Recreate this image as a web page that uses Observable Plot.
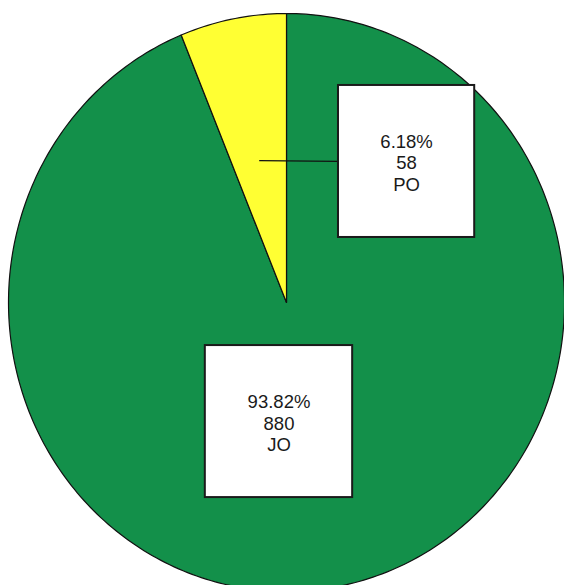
<!DOCTYPE html>
<html>
<head>
<meta charset="utf-8">
<script src="https://cdn.jsdelivr.net/npm/d3@7"></script>
<script src="https://cdn.jsdelivr.net/npm/@observablehq/plot@0.6"></script>
<style>
  html, body { margin: 0; padding: 0; background: #fff; }
  #chart svg { display: block; }
</style>
</head>
<body>
<div id="chart"></div>
<script>
// Data
const categories = ["JO", "PO"];
const counts = [880, 58];
const colors = ["#13904a", "#ffff33"];

const total = d3.sum(counts);
const shares = counts.map(c => c / total);

// Slice angles (clockwise from top); PO sits just counter-clockwise of 12 o'clock
const slices = [
  {cat: categories[0], a0: 0, a1: shares[0] * 2 * Math.PI, color: colors[0], count: counts[0], share: shares[0]},
  {cat: categories[1], a0: -shares[1] * 2 * Math.PI, a1: 0, color: colors[1], count: counts[1], share: shares[1]}
];

// Build polygon points for each slice
const pts = [];
for (const s of slices) {
  pts.push({cat: s.cat, x: 0, y: 0, color: s.color});
  const n = Math.max(8, Math.ceil((s.a1 - s.a0) / (Math.PI / 180)));
  for (let i = 0; i <= n; i++) {
    const a = s.a0 + (s.a1 - s.a0) * i / n;
    pts.push({cat: s.cat, x: Math.sin(a), y: Math.cos(a), color: s.color});
  }
}

// Label boxes (layout in unit-circle coordinates)
const fmt = s => (s * 100).toFixed(2) + "%";
const labels = [
  {cat: "PO", cx: 0.432, cy: 0.488, hw: 0.245, hh: 0.263},
  {cat: "JO", cx: -0.027, cy: -0.412, hw: 0.265, hh: 0.263}
].map(l => {
  const s = slices.find(d => d.cat === l.cat);
  return {...l, text: `${fmt(s.share)}\n${s.count}\n${s.cat}`};
});

// Leader line for PO: from slice mid-angle at half radius to the box's left edge
const po = slices.find(d => d.cat === "PO");
const mid = (po.a0 + po.a1) / 2;
const poLabel = labels.find(l => l.cat === "PO");
const leader = [
  {x: 0.5 * Math.sin(mid), y: 0.5 * Math.cos(mid)},
  {x: poLabel.cx - poLabel.hw, y: poLabel.cy}
];

const chart = Plot.plot({
  width: 564,
  height: 585,
  margin: 0,
  x: {domain: [-1, 1], range: [8, 564], axis: null},
  y: {domain: [-1, 1], range: [591, 13], axis: null},
  style: {background: "#fff"},
  marks: [
    Plot.line(pts, {
      x: "x", y: "y", z: "cat",
      fill: d => d.color,
      stroke: "#111", strokeWidth: 1.2,
      curve: "linear-closed"
    }),
    Plot.line(leader, {x: "x", y: "y", stroke: "#111", strokeWidth: 1.2}),
    Plot.rect(labels, {
      x1: d => d.cx - d.hw, x2: d => d.cx + d.hw,
      y1: d => d.cy - d.hh, y2: d => d.cy + d.hh,
      fill: "#fff", stroke: "#1a1a1a", strokeWidth: 2
    }),
    Plot.text(labels, {
      x: "cx", y: "cy", text: "text",
      dy: 1,
      fontSize: 18.5, lineHeight: 1.17,
      fontFamily: "Liberation Sans, Arial, sans-serif",
      fill: "#1a1a1a"
    })
  ]
});
document.getElementById("chart").append(chart);
</script>
</body>
</html>
